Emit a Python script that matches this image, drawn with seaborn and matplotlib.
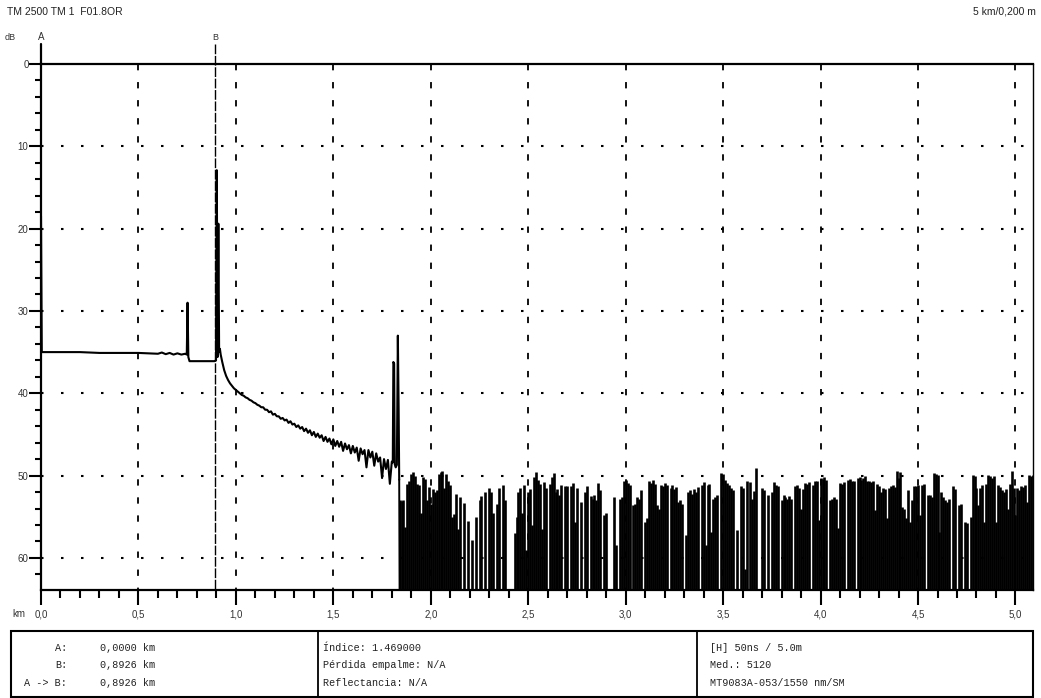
import numpy as np
import matplotlib
matplotlib.use('Agg')
import matplotlib.pyplot as plt
import seaborn as sns
from matplotlib.patches import Rectangle

# OTDR trace, near part (km, dB)
trace_km = [0.000, 0.004, 0.10, 0.20, 0.30, 0.40, 0.50, 0.60, 0.62, 0.64, 0.66,
            0.68, 0.70, 0.72, 0.74, 0.748, 0.752, 0.756, 0.762, 0.80, 0.85, 0.89,
            0.898, 0.902, 0.906, 0.910, 0.914, 0.918, 0.922]
trace_db = [18.5, 35.0, 35.0, 35.0, 35.1, 35.1, 35.1, 35.2, 35.05, 35.25, 35.1,
            35.3, 35.15, 35.3, 35.2, 35.3, 29.0, 35.6, 36.1, 36.1, 36.1, 36.1,
            36.0, 12.9, 35.6, 19.4, 35.0, 34.6, 35.3]

# fibre decay, 0.93 .. 1.80 km every 0.01 km
decay_start = 0.93
decay_db = [
    36.2, 37.2, 37.9, 38.4, 38.8, 39.1, 39.4, 39.6, 39.8, 40.0,
    40.2, 40.3, 40.5, 40.6, 40.8, 40.9, 41.1, 41.2, 41.4, 41.5,
    41.7, 41.7, 42.0, 42.0, 42.3, 42.2, 42.6, 42.5, 42.8, 42.8,
    43.1, 43.0, 43.3, 43.2, 43.6, 43.4, 43.8, 43.7, 44.1, 43.9,
    44.3, 44.1, 44.6, 44.3, 44.8, 44.5, 45.1, 44.7, 45.3, 44.9,
    45.4, 45.1, 45.8, 45.3, 45.9, 45.5, 46.2, 45.6, 46.4, 45.8,
    46.5, 45.9, 47.0, 46.1, 46.8, 46.3, 47.3, 46.4, 47.2, 46.6,
    48.2, 46.7, 47.4, 46.9, 49.0, 46.9, 47.8, 47.1, 48.8, 47.3,
    48.3, 47.8, 50.3, 48.0, 49.2, 48.1, 51.0, 48.3,
]

# fibre end reflections
end_km = [1.805, 1.808, 1.812, 1.815, 1.82, 1.826, 1.831, 1.835, 1.838]
end_db = [48.4, 36.2, 36.4, 48.6, 49.0, 48.7, 33.0, 41.8, 50.5]

# noise floor after the fibre end, 1.84 .. 5.09 km every 0.01 km
noise_start = 1.84
noise_db = [
    53.0, 53.1, 53.0, 56.3, 51.0, 50.6, 49.8, 49.6, 50.0, 51.0,
    51.2, 54.5, 50.2, 50.4, 53.0, 51.4, 53.5, 51.6, 52.0, 51.8,
    49.8, 49.6, 49.5, 51.5, 49.8, 50.6, 51.2, 55.0, 54.7, 52.2,
    56.5, 52.6, 64.5, 53.3, 64.5, 55.5, 64.5, 57.8, 64.5, 55.0,
    64.5, 53.0, 52.5, 64.5, 52.0, 64.5, 51.5, 52.0, 54.5, 64.5,
    53.5, 51.5, 64.5, 51.2, 53.0, 64.5, 64.5, 64.5, 64.5, 57.0,
    55.0, 52.0, 51.5, 54.5, 51.2, 59.0, 52.0, 51.6, 56.0, 50.2,
    49.6, 50.5, 51.0, 56.5, 50.8, 51.5, 64.5, 51.0, 50.2, 49.7,
    52.0, 51.6, 52.4, 51.1, 64.5, 51.3, 51.3, 64.5, 51.3, 50.9,
    55.6, 51.5, 64.5, 53.2, 64.5, 52.0, 51.3, 64.5, 52.5, 52.9,
    52.4, 53.0, 50.9, 51.8, 64.5, 54.8, 54.6, 64.5, 64.5, 64.5,
    52.6, 58.4, 64.5, 52.8, 52.6, 50.7, 50.5, 50.9, 51.2, 64.5,
    53.6, 53.4, 52.6, 52.8, 51.8, 64.5, 55.6, 55.2, 50.7, 50.9,
    50.5, 51.0, 53.6, 54.0, 51.1, 51.3, 50.9, 51.2, 64.5, 51.5,
    51.2, 51.6, 51.4, 53.2, 53.0, 53.4, 64.5, 57.2, 52.0, 51.8,
    52.2, 51.6, 52.0, 51.4, 64.5, 51.1, 50.8, 58.4, 51.1, 51.0,
    56.8, 52.8, 52.6, 52.4, 64.5, 49.7, 49.8, 50.5, 50.9, 51.2,
    51.5, 51.8, 64.5, 56.6, 64.5, 51.3, 51.5, 61.3, 50.7, 64.5,
    50.8, 52.8, 51.9, 49.1, 64.5, 64.5, 51.5, 51.7, 64.5, 52.4,
    64.5, 52.0, 50.8, 51.2, 51.3, 64.5, 53.0, 52.4, 52.6, 52.8,
    52.5, 52.8, 64.5, 51.3, 51.2, 51.5, 54.0, 51.6, 50.9, 51.0,
    50.8, 64.5, 51.2, 50.7, 50.6, 55.4, 50.3, 50.4, 50.2, 50.5,
    64.5, 53.0, 52.8, 52.6, 52.9, 56.4, 50.9, 51.0, 50.8, 64.5,
    50.5, 50.4, 50.6, 50.7, 64.5, 50.3, 50.2, 50.5, 50.3, 50.1,
    50.7, 50.6, 50.8, 50.7, 54.2, 51.0, 51.3, 52.0, 51.5, 51.6,
    55.2, 51.5, 51.3, 51.2, 51.4, 49.5, 50.3, 49.6, 53.8, 54.0,
    55.2, 51.8, 55.6, 53.0, 51.3, 51.3, 51.2, 54.8, 51.1, 51.0,
    64.5, 52.4, 52.3, 52.6, 49.7, 49.8, 49.9, 56.8, 52.0, 52.6,
    53.0, 53.2, 52.8, 64.5, 51.3, 51.6, 64.5, 53.6, 53.4, 64.5,
    55.6, 55.8, 64.5, 55.0, 49.9, 50.0, 51.5, 53.6, 51.5, 51.2,
    55.6, 51.0, 49.9, 50.1, 50.3, 50.0, 55.6, 51.1, 51.4, 51.8,
    52.0, 51.6, 54.0, 51.0, 49.5, 51.5, 54.8, 51.5, 51.7, 51.3,
    51.4, 51.2, 53.2, 49.9, 50.0, 49.9,
]

x_ticks = [0.0, 0.5, 1.0, 1.5, 2.0, 2.5, 3.0, 3.5, 4.0, 4.5, 5.0]
x_labels = ['0,0', '0,5', '1,0', '1,5', '2,0', '2,5', '3,0', '3,5', '4,0', '4,5', '5,0']
y_ticks = [0, 10, 20, 30, 40, 50, 60]

cursor_a = 0.0
cursor_b = 0.8926

info_left = [('A:', '0,0000 km'), ('B:', '0,8926 km'), ('A -> B:', '0,8926 km')]
info_mid = ['Índice: 1.469000', 'Pérdida empalme: N/A', 'Reflectancia: N/A']
info_right = ['[H] 50ns / 5.0m', 'Med.: 5120', 'MT9083A-053/1550 nm/SM']

sns.set_style('white')
plt.rcParams['font.family'] = ['Liberation Sans', 'DejaVu Sans']

W, H = 1041, 698
fig = plt.figure(figsize=(W / 100, H / 100), dpi=100)
ax = fig.add_axes([41 / W, 1 - 590 / H, (1033 - 41) / W, (590 - 64) / H])

decay_km = np.round(decay_start + 0.01 * np.arange(len(decay_db)), 3)
near_km = list(trace_km) + list(decay_km) + list(end_km)
near_db = list(trace_db) + list(decay_db) + list(end_db)
sns.lineplot(x=near_km, y=near_db, sort=False, estimator=None, color='black',
             linewidth=1.5, ax=ax)

# noise floor: one column per sample, slightly wider than the step
noise_km = np.round(noise_start + 0.01 * np.arange(len(noise_db)), 3)
ax.vlines(noise_km, noise_db, 70, colors='black', linewidth=1.9)
ax.plot([end_km[-1], noise_km[0]], [end_db[-1], 64.5], color='black', lw=1.4)

ax.set_xlim(0, 5.09)
ax.set_ylim(63.9, 0)

# grid
for xv in x_ticks[1:]:
    ax.plot([xv, xv], [0, 63.9], color='black', lw=1.3, linestyle=(0, (3.5, 6.5)))
for yv in y_ticks[1:]:
    ax.plot([0, 5.09], [yv, yv], color='black', lw=1.5, linestyle=(0, (1.2, 8.4)))

# cursors
ax.plot([cursor_a, cursor_a], [-2.4, 0], color='black', lw=1.6, clip_on=False)
ax.plot([cursor_b, cursor_b], [-2.4, 63.9], color='black', lw=1.0,
        linestyle=(0, (7, 1.2)), clip_on=False)
ax.text(cursor_a, -2.7, 'A', ha='center', va='bottom', fontsize=7, color='#333333')
ax.text(cursor_b, -2.7, 'B', ha='center', va='bottom', fontsize=6.5, color='#333333')

for side in ['top', 'left', 'bottom']:
    ax.spines[side].set_linewidth(1.6)
ax.spines['right'].set_linewidth(1.0)
for s in ax.spines.values():
    s.set_color('black')

ax.set_xticks(x_ticks)
ax.set_xticklabels(x_labels)
ax.set_xticks(np.arange(0, 5.05, 0.1), minor=True)
ax.set_yticks(y_ticks)
ax.set_yticklabels([str(v) for v in y_ticks])
ax.set_yticks(np.arange(0, 64, 2), minor=True)
ax.tick_params(axis='x', which='major', bottom=True, direction='out', length=11,
               width=1.5, labelsize=7, pad=3, colors='black', labelcolor='#333333')
ax.tick_params(axis='x', which='minor', bottom=True, direction='out', length=5.5,
               width=1.5, colors='black')
ax.tick_params(axis='y', which='major', left=True, direction='out', length=8.5,
               width=1.5, labelsize=7, pad=0.5, colors='black', labelcolor='#333333')
ax.tick_params(axis='y', which='minor', left=True, direction='out', length=4.5,
               width=1.5, colors='black')
ax.set_xlabel('')
ax.set_ylabel('')

# header texts
fig.text(7 / W, 1 - 12 / H, 'TM 2500 TM 1  F01.8OR', fontsize=7.5, va='center',
         ha='left', color='#222222')
fig.text(1036 / W, 1 - 12 / H, '5 km/0,200 m', fontsize=7.5, va='center',
         ha='right', color='#222222')
fig.text(5 / W, 1 - 37 / H, 'dB', fontsize=6.5, va='center', ha='left', color='#333333')
fig.text(12 / W, 1 - 614 / H, 'km', fontsize=7, va='center', ha='left', color='#333333')


# info table
def px(x, y):
    return (x / W, 1 - y / H)


box = Rectangle(px(11, 697), (1033 - 11) / W, (697 - 631) / H, transform=fig.transFigure,
                fill=False, edgecolor='black', lw=1.5)
fig.add_artist(box)
for xd in [318, 697]:
    fig.add_artist(plt.Line2D([xd / W, xd / W], [1 - 631 / H, 1 - 697 / H],
                              transform=fig.transFigure, color='black', lw=1.3))

row_y = [648, 665, 683]
mono = ['Liberation Mono', 'DejaVu Sans Mono']
for (lab, val), yy in zip(info_left, row_y):
    fig.text(*px(67, yy), lab, family=mono, fontsize=7.3, ha='right', va='center',
             color='#222222')
    fig.text(*px(100, yy), val, family=mono, fontsize=7.3, ha='left', va='center',
             color='#222222')
for t, yy in zip(info_mid, row_y):
    fig.text(*px(323, yy), t, family=mono, fontsize=7.3, ha='left', va='center',
             color='#222222')
for t, yy in zip(info_right, row_y):
    fig.text(*px(710, yy), t, family=mono, fontsize=7.3, ha='left', va='center',
             color='#222222')

fig.savefig('out.png', dpi=100)
